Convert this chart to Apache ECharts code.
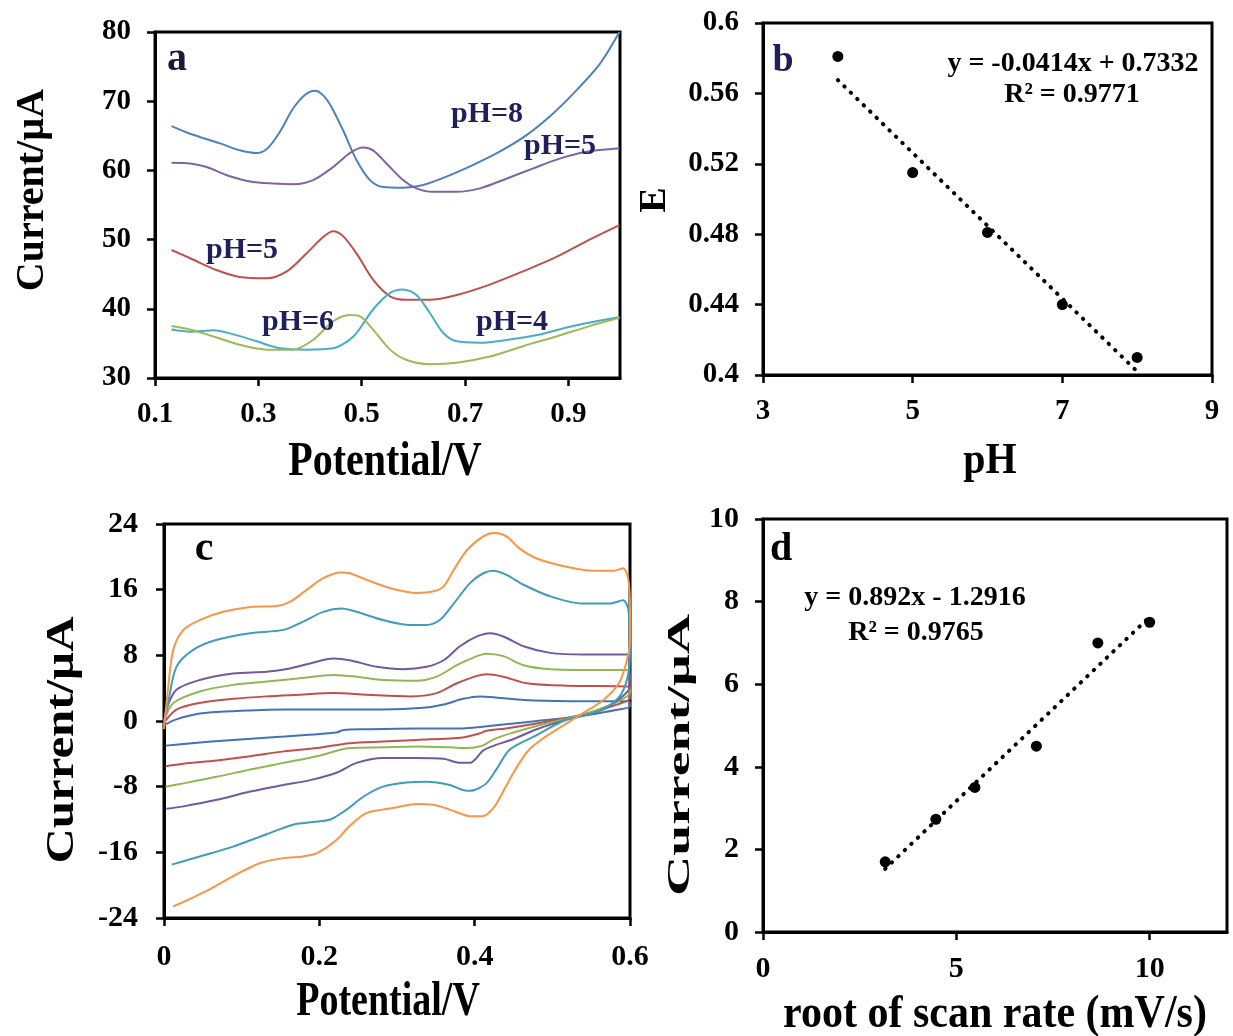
<!DOCTYPE html>
<html>
<head>
<meta charset="utf-8">
<script src="https://cdn.jsdelivr.net/npm/echarts@6/dist/echarts.min.js"></script>
<style>
html,body{margin:0;padding:0;background:#fff;}
#chart{width:1233px;height:1036px;}
</style>
</head>
<body>
<div id="chart"></div>
<script>
// ---------- Panel a: DPV curves at several pH (Potential/V, Current/µA) ----------
const aTicksX = [0.1, 0.3, 0.5, 0.7, 0.9];
const pH8 = [[0.132,66.4],[0.168,65.3],[0.226,63.9],[0.264,62.9],[0.297,62.5],[0.318,63.2],[0.342,65.6],[0.366,68.8],[0.390,70.9],[0.410,71.5],[0.426,70.8],[0.442,69.1],[0.464,65.8],[0.490,61.5],[0.516,58.6],[0.542,57.6],[0.580,57.5],[0.619,57.9],[0.664,59.1],[0.716,60.8],[0.767,62.7],[0.819,65.1],[0.870,68.2],[0.916,71.6],[0.961,75.4],[0.999,80.0]];
const pH5top = [[0.132,61.1],[0.168,61.0],[0.200,60.5],[0.239,59.3],[0.284,58.4],[0.329,58.1],[0.368,58.0],[0.406,58.6],[0.445,60.5],[0.477,62.5],[0.503,63.3],[0.522,62.9],[0.548,61.0],[0.580,58.6],[0.606,57.4],[0.638,56.9],[0.684,56.9],[0.729,57.4],[0.780,58.8],[0.832,60.3],[0.883,61.7],[0.935,62.7],[0.999,63.2]];
const pH5 = [[0.132,48.5],[0.168,47.3],[0.219,45.6],[0.264,44.6],[0.316,44.4],[0.355,45.4],[0.393,48.0],[0.426,50.4],[0.445,51.2],[0.464,50.5],[0.490,48.0],[0.522,44.2],[0.555,41.8],[0.587,41.3],[0.632,41.3],[0.684,42.0],[0.748,43.5],[0.812,45.4],[0.877,47.5],[0.941,50.0],[0.999,52.1]];
const pH4 = [[0.132,37.0],[0.168,36.7],[0.213,36.9],[0.252,36.3],[0.297,35.3],[0.342,34.3],[0.393,34.1],[0.445,34.3],[0.484,36.0],[0.522,39.9],[0.555,42.3],[0.580,42.8],[0.606,42.0],[0.632,39.4],[0.658,36.5],[0.684,35.3],[0.729,35.1],[0.780,35.5],[0.845,36.3],[0.909,37.5],[0.999,38.8]];
const pH6 = [[0.132,37.5],[0.168,37.0],[0.213,36.0],[0.264,34.8],[0.316,34.1],[0.368,34.1],[0.406,35.5],[0.445,38.2],[0.477,39.1],[0.497,38.9],[0.522,37.0],[0.555,34.1],[0.587,32.6],[0.632,32.0],[0.684,32.2],[0.748,33.1],[0.812,34.6],[0.877,36.0],[0.941,37.5],[0.999,38.7]];

// ---------- Panel b: peak potential vs pH ----------
const bTicksX = [3, 5, 7, 9];
const bPH = [4, 5, 6, 7, 8];
const bE = [0.581, 0.515, 0.481, 0.440, 0.410];
const bTrend = [[4, 0.5676], [8, 0.402]];

// ---------- Panel c: CVs at six scan rates (upper = forward, lower = reverse) ----------
const cvBlueUp = [[0,-0.5],[0.016,0.2],[0.046,0.9],[0.089,1.2],[0.154,1.4],[0.218,1.4],[0.282,1.4],[0.334,1.6],[0.360,2.0],[0.385,2.7],[0.407,3.0],[0.433,2.8],[0.476,2.5],[0.540,2.4],[0.598,2.4]];
const cvBlueDn = [[0.600,1.8],[0.58,1.3],[0.55,0.8],[0.52,0.4],[0.48,0.0],[0.44,-0.4],[0.41,-0.7],[0.385,-0.9],[0.325,-0.9],[0.26,-1.0],[0.231,-1.1],[0.222,-1.4],[0.154,-1.9],[0.089,-2.3],[0.025,-2.8],[0.002,-3.0]];
const cvRedUp = [[0,-0.2],[0.016,1.4],[0.046,2.2],[0.089,2.7],[0.132,3.0],[0.175,3.2],[0.218,3.4],[0.261,3.2],[0.317,3.0],[0.351,3.4],[0.377,4.6],[0.403,5.5],[0.415,5.7],[0.437,5.4],[0.467,4.6],[0.518,4.3],[0.598,4.2]];
const cvRedDn = [[0.600,2.8],[0.58,1.9],[0.55,1.0],[0.52,0.4],[0.48,-0.3],[0.44,-0.9],[0.415,-1.2],[0.407,-1.5],[0.385,-2.0],[0.325,-2.3],[0.282,-2.5],[0.239,-2.7],[0.197,-3.3],[0.154,-3.7],[0.111,-4.3],[0.068,-4.8],[0.025,-5.2],[0.002,-5.5]];
const cvGreenUp = [[0,0.0],[0.012,2.2],[0.046,3.6],[0.089,4.4],[0.132,4.8],[0.175,5.2],[0.218,5.6],[0.248,5.4],[0.282,5.0],[0.325,4.9],[0.351,5.4],[0.377,6.8],[0.403,7.9],[0.415,8.2],[0.437,7.9],[0.463,6.8],[0.497,6.3],[0.540,6.2],[0.598,6.2]];
const cvGreenDn = [[0.600,3.5],[0.58,2.2],[0.55,1.1],[0.52,0.3],[0.48,-0.6],[0.45,-1.4],[0.425,-2.2],[0.41,-3.0],[0.39,-3.3],[0.368,-3.2],[0.325,-3.1],[0.282,-3.2],[0.239,-3.3],[0.197,-4.3],[0.154,-5.1],[0.111,-5.9],[0.068,-6.8],[0.025,-7.6],[0.002,-8.0]];
const cvPurpleUp = [[0,-0.3],[0.003,1.4],[0.016,3.8],[0.046,5.0],[0.089,5.8],[0.132,6.0],[0.162,6.4],[0.188,7.0],[0.218,7.6],[0.239,7.4],[0.274,6.6],[0.308,6.3],[0.338,6.6],[0.360,7.4],[0.381,9.1],[0.403,10.3],[0.420,10.7],[0.437,10.3],[0.463,9.1],[0.497,8.3],[0.540,8.1],[0.596,8.1]];
const cvPurpleDn = [[0.600,4.2],[0.585,2.6],[0.56,1.2],[0.52,0.2],[0.48,-1.0],[0.45,-2.2],[0.425,-3.0],[0.411,-3.6],[0.394,-5.1],[0.381,-5.1],[0.36,-4.6],[0.325,-4.5],[0.282,-4.5],[0.248,-5.1],[0.222,-6.3],[0.188,-7.2],[0.154,-7.8],[0.111,-8.6],[0.068,-9.6],[0.025,-10.4],[0.003,-10.7]];
const cvTealUp = [[0,-0.5],[0.005,2.0],[0.016,6.6],[0.038,8.7],[0.068,9.9],[0.111,10.7],[0.154,11.1],[0.179,12.1],[0.205,13.3],[0.229,13.7],[0.248,13.3],[0.282,12.3],[0.317,11.7],[0.338,11.7],[0.355,12.3],[0.373,14.3],[0.394,16.8],[0.411,18.0],[0.424,18.3],[0.441,17.8],[0.463,16.6],[0.497,15.2],[0.540,14.3],[0.574,14.3],[0.591,14.7],[0.598,13.5]];
const cvTealDn = [[0.600,8.0],[0.596,5.0],[0.585,2.8],[0.56,1.2],[0.518,0.15],[0.476,-1.9],[0.445,-3.5],[0.428,-5.9],[0.415,-7.6],[0.40,-8.4],[0.39,-8.5],[0.368,-7.8],[0.338,-7.4],[0.312,-7.5],[0.282,-8.0],[0.257,-9.2],[0.235,-10.8],[0.214,-12.0],[0.192,-12.3],[0.167,-12.6],[0.132,-13.8],[0.089,-15.3],[0.046,-16.5],[0.010,-17.5]];
const cvOrangeUp = [[0,-1.0],[0.006,4.6],[0.012,8.7],[0.025,11.1],[0.046,12.3],[0.076,13.3],[0.111,13.9],[0.145,14.0],[0.162,14.5],[0.184,16.0],[0.205,17.4],[0.227,18.1],[0.239,18.0],[0.261,17.2],[0.291,16.2],[0.325,15.6],[0.347,15.8],[0.360,16.4],[0.373,18.4],[0.390,20.8],[0.411,22.5],[0.426,22.9],[0.441,22.5],[0.458,21.0],[0.480,19.8],[0.518,18.8],[0.553,18.3],[0.579,18.3],[0.591,18.6],[0.598,17.2],[0.600,13.5]];
const cvOrangeDn = [[0.600,10.0],[0.595,7.0],[0.585,4.5],[0.565,2.5],[0.54,1.0],[0.515,-0.5],[0.49,-2.0],[0.47,-3.5],[0.455,-5.5],[0.44,-8.0],[0.425,-10.5],[0.41,-11.6],[0.394,-11.6],[0.385,-11.4],[0.368,-10.8],[0.347,-10.2],[0.325,-10.1],[0.295,-10.6],[0.261,-11.2],[0.239,-12.8],[0.222,-14.5],[0.197,-16.1],[0.179,-16.5],[0.154,-16.7],[0.124,-17.3],[0.089,-18.9],[0.055,-20.7],[0.012,-22.6]];

// ---------- Panel d: peak current vs root of scan rate ----------
const dTicksX = [0, 5, 10];
const dRoot = [3.16, 4.47, 5.48, 7.07, 8.66, 10];
const dCurrent = [1.7, 2.73, 3.5, 4.5, 7.0, 7.5];
const dTrend = [[3.16, 1.53], [10, 7.63]];

// ---------- styling ----------
const FONT = '"Liberation Serif", "Times New Roman", serif';
const NAVY = '#1f1f5c';
const lbl = (size, extra) => Object.assign({fontFamily: FONT, fontWeight: 'bold', fontSize: size, color: '#000'}, extra || {});
const axisCommon = {
  axisLine: {show: true, onZero: false, lineStyle: {color: '#000', width: 3}},
  axisTick: {show: true, length: 8, lineStyle: {color: '#000', width: 2.5}},
  splitLine: {show: false}
};
function ax(o) { return Object.assign({type: 'value'}, JSON.parse(JSON.stringify(axisCommon)), o, {
  axisTick: Object.assign({}, axisCommon.axisTick, o.axisTick || {}),
  axisLabel: o.axisLabel
}); }

const colA = {pH8: '#4f81bd', pH5top: '#8064a2', pH5: '#c0504d', pH4: '#4bacc6', pH6: '#9bbb59'};
const colC = {blue: '#4472b4', red: '#c0504d', green: '#8fb855', purple: '#7358a0', teal: '#3f9cbb', orange: '#f79646'};

function curve(data, color, xi, w) {
  return {type: 'line', xAxisIndex: xi, yAxisIndex: xi, data: data, showSymbol: false, symbol: 'none',
          smooth: 0.3, lineStyle: {color: color, width: w || 2}, animation: false, silent: true, z: 3};
}
function txt(x, y, text, size, opts) {
  opts = opts || {};
  return {type: 'text', x: x, y: y, rotation: opts.rot || 0, scaleX: opts.sx || 1, scaleY: opts.sy || 1, z: 50,
    style: {text: text, fontFamily: FONT, fontWeight: 'bold', fontSize: size, fill: opts.color || '#000',
            align: 'center', verticalAlign: 'middle'}};
}
const dotted = {color: '#000', width: 4, type: [0.5, 8.5], cap: 'round'};

const option = {
  backgroundColor: '#fff',
  animation: false,
  grid: [
    {left: 155, top: 32, width: 465, height: 346, show: true, borderColor: '#000', borderWidth: 3},
    {left: 763, top: 23, width: 449, height: 352, show: true, borderColor: '#000', borderWidth: 3},
    {left: 164, top: 524, width: 466, height: 394, show: true, borderColor: '#000', borderWidth: 3},
    {left: 763, top: 519, width: 464, height: 413, show: true, borderColor: '#000', borderWidth: 3}
  ],
  xAxis: [
    ax({gridIndex: 0, min: 0.1, max: 1.0, axisTick: {customValues: aTicksX},
        axisLabel: lbl(29, {margin: 22, customValues: aTicksX})}),
    ax({gridIndex: 1, min: 3, max: 9, axisTick: {customValues: bTicksX},
        axisLabel: lbl(29, {margin: 22, customValues: bTicksX})}),
    ax({gridIndex: 2, min: 0, max: 0.6, interval: 0.2, axisLabel: lbl(30, {margin: 24})}),
    ax({gridIndex: 3, min: 0, max: 12, axisTick: {customValues: dTicksX},
        axisLabel: lbl(30, {margin: 22, customValues: dTicksX})})
  ],
  yAxis: [
    ax({gridIndex: 0, min: 30, max: 80, interval: 10, axisLabel: lbl(29, {margin: 24})}),
    ax({gridIndex: 1, min: 0.4, max: 0.6, interval: 0.04, axisLabel: lbl(29, {margin: 24})}),
    ax({gridIndex: 2, min: -24, max: 24, interval: 8, axisLabel: lbl(30, {margin: 26})}),
    ax({gridIndex: 3, min: 0, max: 10, interval: 2, axisLabel: lbl(30, {margin: 24})})
  ],
  series: [
    curve(pH8, colA.pH8, 0),
    curve(pH5top, colA.pH5top, 0),
    curve(pH5, colA.pH5, 0),
    curve(pH4, colA.pH4, 0),
    curve(pH6, colA.pH6, 0),
    {type: 'line', xAxisIndex: 1, yAxisIndex: 1, data: bTrend, symbol: 'none', lineStyle: dotted, z: 2},
    {type: 'scatter', xAxisIndex: 1, yAxisIndex: 1, data: bPH.map((x, i) => [x, bE[i]]),
     symbol: 'circle', symbolSize: 11, itemStyle: {color: '#000', opacity: 1}, z: 4},
    curve(cvBlueUp.concat(cvBlueDn), colC.blue, 2),
    curve(cvRedUp.concat(cvRedDn), colC.red, 2),
    curve(cvGreenUp.concat(cvGreenDn), colC.green, 2),
    curve(cvPurpleUp.concat(cvPurpleDn), colC.purple, 2),
    curve(cvTealUp.concat(cvTealDn), colC.teal, 2),
    curve(cvOrangeUp.concat(cvOrangeDn), colC.orange, 2),
    {type: 'line', xAxisIndex: 3, yAxisIndex: 3, data: dTrend, symbol: 'none', lineStyle: dotted, z: 2},
    {type: 'scatter', xAxisIndex: 3, yAxisIndex: 3, data: dRoot.map((x, i) => [x, dCurrent[i]]),
     symbol: 'circle', symbolSize: 11, itemStyle: {color: '#000', opacity: 1}, z: 4}
  ],
  graphic: [
    // axis titles
    txt(33, 190, 'Current/µA', 40, {rot: Math.PI / 2}),
    txt(385, 463, 'Potential/V', 40, {sy: 1.2}),
    txt(655, 200, 'E', 38, {rot: Math.PI / 2}),
    txt(990, 462, 'pH', 40, {sy: 1.1}),
    txt(63, 740, 'Current/µA', 40, {rot: Math.PI / 2, sx: 1.22}),
    txt(388, 1002, 'Potential/V', 38, {sy: 1.3}),
    txt(681, 755, 'Current/µA', 31, {rot: Math.PI / 2, sx: 1.8}),
    txt(995, 1015, 'root of scan rate (mV/s)', 42, {sy: 1.08}),
    // panel letters
    txt(177, 60, 'a', 40, {color: '#1a1a3a'}),
    txt(783, 61, 'b', 38, {color: NAVY}),
    txt(204, 549, 'c', 42),
    txt(781, 550, 'd', 40),
    // pH annotations
    txt(487, 114, 'pH=8', 30, {color: NAVY}),
    txt(560, 146, 'pH=5', 30, {color: NAVY}),
    txt(242, 250, 'pH=5', 30, {color: NAVY}),
    txt(298, 322, 'pH=6', 30, {color: NAVY}),
    txt(512, 322, 'pH=4', 30, {color: NAVY}),
    // regression equations
    txt(1073, 64, 'y = -0.0414x + 0.7332', 28),
    txt(1072, 95, 'R² = 0.9771', 28),
    txt(915, 598, 'y = 0.892x - 1.2916', 28),
    txt(916, 633, 'R² = 0.9765', 28)
  ]
};

const chart = echarts.init(document.getElementById('chart'), null, {renderer: 'canvas'});
chart.setOption(option);
</script>
</body>
</html>
